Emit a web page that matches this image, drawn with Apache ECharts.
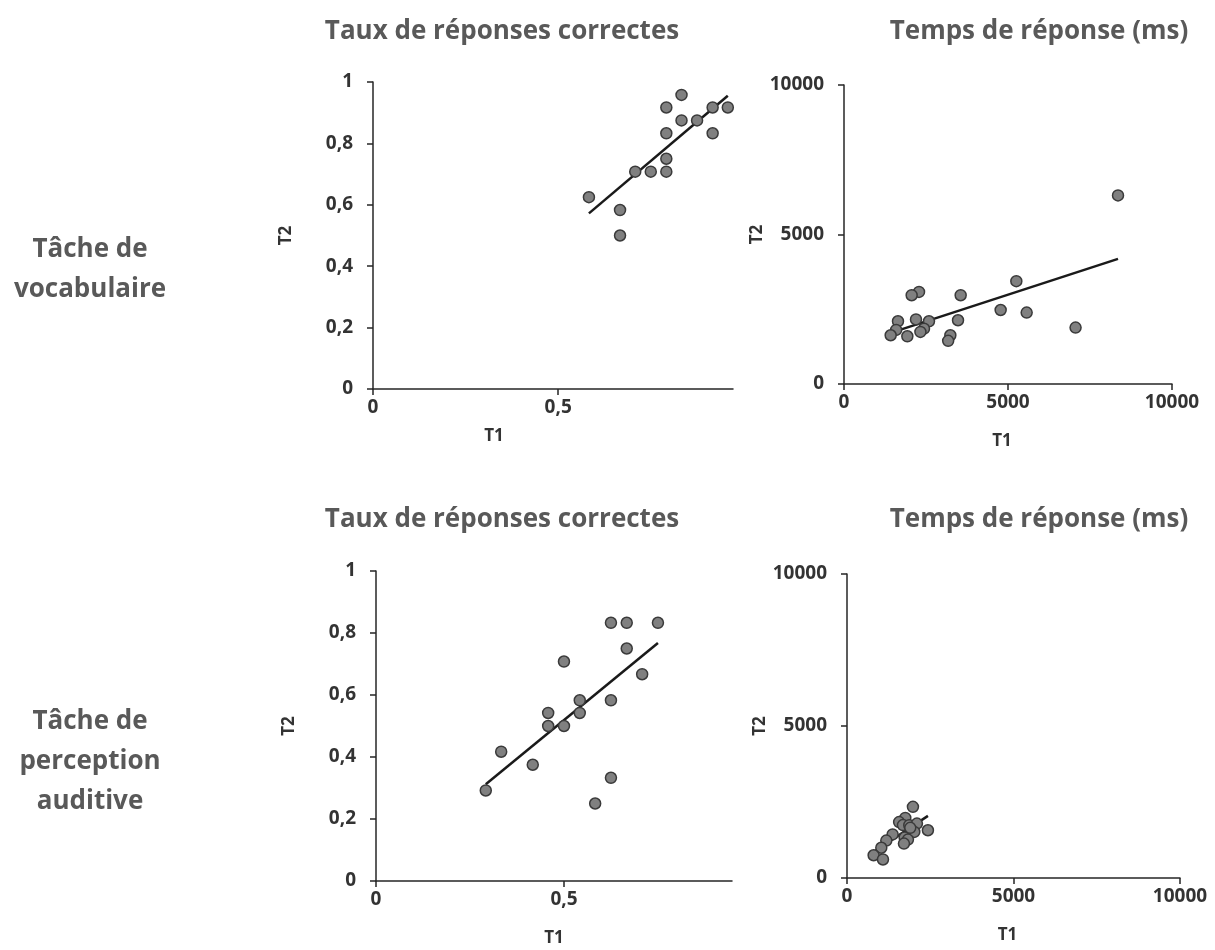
<!DOCTYPE html>
<html>
<head>
<meta charset="utf-8">
<script src="https://cdn.jsdelivr.net/npm/echarts@6.0.0/dist/echarts.min.js"></script>
<style>
html,body{margin:0;padding:0;background:#fff;}
#chart{width:1215px;height:950px;}
</style>
</head>
<body>
<div id="chart"></div>
<script>
// ---- Data ----
const colTitles = ['Taux de réponses correctes', 'Temps de réponse (ms)'];
const rowTitles = ['Tâche de\nvocabulaire', 'Tâche de\nperception\nauditive'];
const accTicks = [0, 0.5];
const rtTicks = [0, 5000, 10000];

// Vocabulaire – taux de réponses correctes
const vocAccT1 = [0.583, 0.667, 0.667, 0.708, 0.750, 0.792, 0.792, 0.792, 0.792, 0.833, 0.833, 0.875, 0.917, 0.917, 0.958];
const vocAccT2 = [0.625, 0.583, 0.500, 0.708, 0.708, 0.708, 0.750, 0.833, 0.917, 0.958, 0.875, 0.875, 0.917, 0.833, 0.917];
const vocAccTrendT1 = [0.583, 0.958];
const vocAccTrendT2 = [0.572, 0.955];

// Vocabulaire – temps de réponse
const vocRtT1 = [8354, 5254, 2287, 2063, 3557, 4776, 5569, 1646, 2195, 2591, 3476, 1590, 2439, 2330, 1423, 1931, 3242, 3176, 7060];
const vocRtT2 = [6306, 3438, 3080, 2969, 2969, 2475, 2388, 2098, 2160, 2098, 2132, 1810, 1850, 1741, 1630, 1596, 1629, 1445, 1887];
const vocRtTrendT1 = [1423, 8354];
const vocRtTrendT2 = [1708, 4185];

// Perception auditive – taux de réponses correctes
const audAccT1 = [0.625, 0.667, 0.750, 0.667, 0.500, 0.708, 0.542, 0.625, 0.542, 0.458, 0.458, 0.500, 0.333, 0.417, 0.625, 0.292, 0.583];
const audAccT2 = [0.833, 0.833, 0.833, 0.750, 0.708, 0.667, 0.583, 0.583, 0.542, 0.542, 0.500, 0.500, 0.417, 0.375, 0.333, 0.292, 0.250];
const audAccTrendT1 = [0.292, 0.750];
const audAccTrendT2 = [0.312, 0.768];

// Perception auditive – temps de réponse
const audRtT1 = [1980, 1750, 1565, 1680, 1870, 2100, 2020, 2430, 1370, 1180, 1730, 1830, 1710, 1030, 800, 1080, 1900];
const audRtT2 = [2340, 1975, 1840, 1740, 1736, 1791, 1516, 1571, 1435, 1230, 1330, 1264, 1132, 995, 748, 610, 1650];
const audRtTrendT1 = [800, 2430];
const audRtTrendT2 = [857, 2044];

// ---- Build ----
const zip = (a, b) => a.map((v, i) => [v, b[i]]);
const FONT = '"Open Sans", "Noto Sans", sans-serif';
const AX = '#262626';
const TXT = '#333333';
const GREY = '#595959';

function fmt(v) { return String(v).replace('.', ','); }

function xAx(gi, max, interval, custom, nameGap, shiftLeft) {
  return {
    gridIndex: gi, type: 'value', min: 0, max: max, interval: interval,
    name: 'T1', nameLocation: 'middle', nameGap: nameGap,
    nameTextStyle: { fontFamily: FONT, fontWeight: 'bold', fontSize: 17, color: TXT,
      padding: [0, shiftLeft * 2, 0, 0] },
    axisLine: { show: true, onZero: false, lineStyle: { color: AX, width: 1.5 } },
    axisTick: { show: true, length: 6, lineStyle: { color: AX, width: 1.5 }, customValues: custom },
    axisLabel: { fontFamily: FONT, fontWeight: 'bold', fontSize: 19, color: TXT, margin: 9,
      customValues: custom, formatter: fmt },
    splitLine: { show: false }
  };
}
function yAx(gi, max, interval) {
  return {
    gridIndex: gi, type: 'value', min: 0, max: max, interval: interval,
    name: 'T2', nameLocation: 'middle', nameGap: 78, nameRotate: 90,
    nameTextStyle: { fontFamily: FONT, fontWeight: 'bold', fontSize: 17, color: TXT },
    axisLine: { show: true, onZero: false, lineStyle: { color: AX, width: 1.5 } },
    axisTick: { show: true, length: 6, lineStyle: { color: AX, width: 1.5 } },
    axisLabel: { fontFamily: FONT, fontWeight: 'bold', fontSize: 19, color: TXT, margin: 20, formatter: fmt },
    splitLine: { show: false }
  };
}
function scatter(i, x, y) {
  return {
    type: 'scatter', xAxisIndex: i, yAxisIndex: i, data: zip(x, y),
    symbolSize: 11, z: 3,
    itemStyle: { color: '#808080', borderColor: '#3a3a3a', borderWidth: 1.5, opacity: 1 }
  };
}
function trend(i, x, y) {
  return {
    type: 'line', xAxisIndex: i, yAxisIndex: i, data: zip(x, y),
    showSymbol: false, symbol: 'none', z: 2,
    lineStyle: { color: '#1a1a1a', width: 2.5 }
  };
}

const titleStyle = { fontFamily: FONT, fontWeight: 'bold', fontSize: 26, color: GREY };
const rowStyle = { fontFamily: FONT, fontWeight: 'bold', fontSize: 26, color: GREY, lineHeight: 40, align: 'center' };

const option = {
  backgroundColor: '#ffffff',
  animation: false,
  title: [
    { text: colTitles[0], left: 497, top: 14, textAlign: 'center', textStyle: titleStyle },
    { text: colTitles[1], left: 1034, top: 14, textAlign: 'center', textStyle: titleStyle },
    { text: colTitles[0], left: 497, top: 502, textAlign: 'center', textStyle: titleStyle },
    { text: colTitles[1], left: 1034, top: 502, textAlign: 'center', textStyle: titleStyle },
    { text: rowTitles[0], left: 85, top: 225, textAlign: 'center', textStyle: rowStyle },
    { text: rowTitles[1], left: 85, top: 697, textAlign: 'center', textStyle: rowStyle }
  ],
  grid: [
    { left: 373, top: 82, width: 360, height: 307 },
    { left: 844, top: 85, width: 328, height: 299 },
    { left: 376, top: 571, width: 356, height: 310 },
    { left: 847, top: 574, width: 333, height: 304 }
  ],
  xAxis: [
    xAx(0, 0.972, 0.5, accTicks, 39, 59),
    xAx(1, 10000, 5000, rtTicks, 49, 6),
    xAx(2, 0.947, 0.5, accTicks, 49, 0),
    xAx(3, 10000, 5000, rtTicks, 49, 6)
  ],
  yAxis: [
    yAx(0, 1, 0.2),
    yAx(1, 10000, 5000),
    yAx(2, 1, 0.2),
    yAx(3, 10000, 5000)
  ],
  series: [
    trend(0, vocAccTrendT1, vocAccTrendT2), scatter(0, vocAccT1, vocAccT2),
    trend(1, vocRtTrendT1, vocRtTrendT2), scatter(1, vocRtT1, vocRtT2),
    trend(2, audAccTrendT1, audAccTrendT2), scatter(2, audAccT1, audAccT2),
    trend(3, audRtTrendT1, audRtTrendT2), scatter(3, audRtT1, audRtT2)
  ]
};

const chart = echarts.init(document.getElementById('chart'), null, { renderer: 'canvas' });
chart.setOption(option);
</script>
</body>
</html>
